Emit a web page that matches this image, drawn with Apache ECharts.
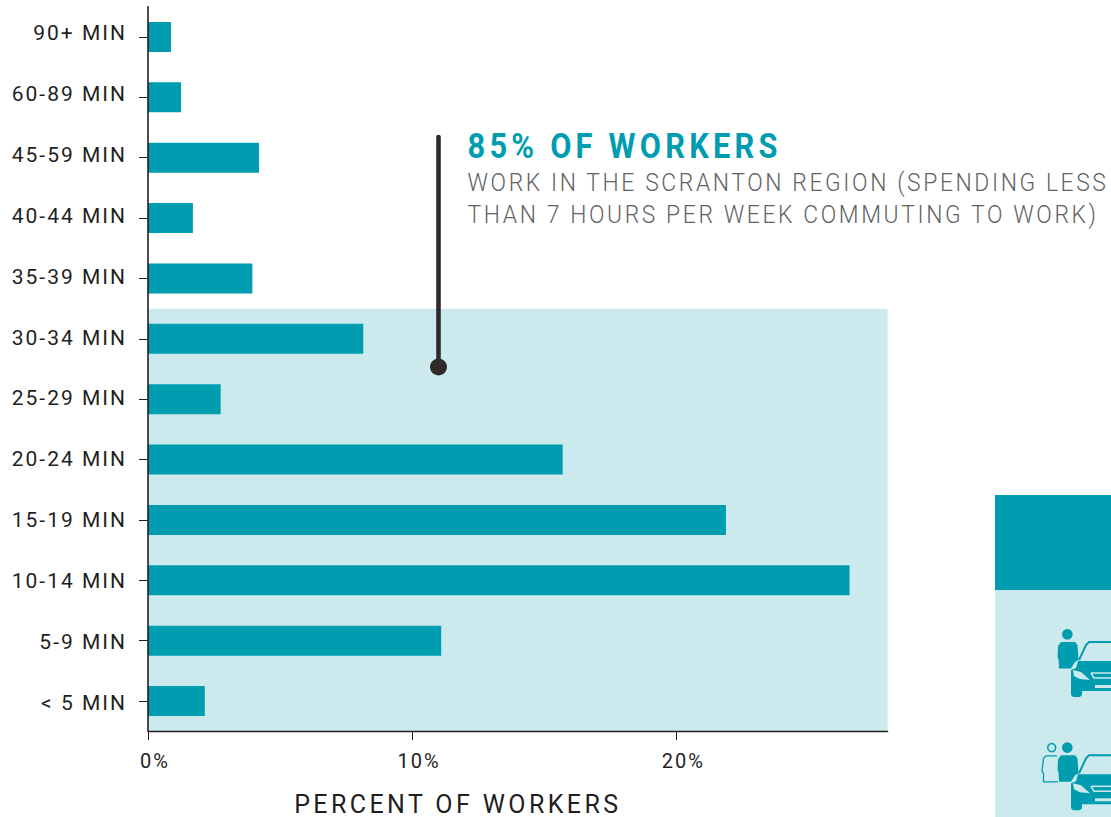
<!DOCTYPE html>
<html><head><meta charset="utf-8">
<script src="https://cdn.jsdelivr.net/npm/echarts@6/dist/echarts.min.js"></script>
<style>
html,body{margin:0;padding:0;background:#fff;overflow:hidden}
#c{width:1111px;height:817px}
#c text{letter-spacing:2px}
#c text[style*="25px"]{letter-spacing:3.4px}
#c text[style*="35px"]{letter-spacing:4.8px}
#c text[style*="25.5px"]{letter-spacing:2.9px}
</style></head><body><div id="c"></div>
<script>
const categories = ['< 5 MIN','5-9 MIN','10-14 MIN','15-19 MIN','20-24 MIN','25-29 MIN','30-34 MIN','35-39 MIN','40-44 MIN','45-59 MIN','60-89 MIN','90+ MIN'];
const workers = [2.15,11.1,26.56,21.88,15.7,2.75,8.15,3.95,1.7,4.2,1.25,0.87];
const regionRows = 7;
const xMax = 28;
const xTicks = [0,10,20];
const TEAL='#009db0', LIGHT='#cceaee', INK='#1f1f1f', DARK='#2f2a28';
const font='Roboto, sans-serif';

function icon(dy, companion){
  const kids=[
    {type:'circle',shape:{cx:1067.3,cy:634.3+dy,r:5.3},style:{fill:TEAL}},
    {type:'polygon',shape:{points:[[1061,642+dy],[1075,642+dy],[1077.5,645+dy],[1078.5,660+dy],[1075,662+dy],[1071,668.5+dy],[1059,668.5+dy],[1058.5,659+dy],[1057.5,657+dy],[1058,646+dy]]},style:{fill:TEAL}},
    {type:'polyline',shape:{points:[[1079,660+dy],[1086,645+dy],[1089,642+dy],[1115,642+dy]]},style:{stroke:TEAL,lineWidth:2,fill:'none'}},
    {type:'polygon',shape:{points:[[1078,661+dy],[1115,661+dy],[1115,691+dy],[1082,691+dy],[1082,695+dy],[1080,697+dy],[1073,697+dy],[1071,695+dy],[1071,670+dy],[1076,668+dy]]},style:{fill:TEAL}},
    {type:'polygon',shape:{points:[[1073,670+dy],[1081,672+dy],[1090,680+dy],[1080,679+dy],[1074,676+dy]]},style:{fill:LIGHT}},
    {type:'polyline',shape:{points:[[1091,673+dy],[1115,673+dy]]},style:{stroke:LIGHT,lineWidth:1.5,fill:'none'}},
    {type:'polyline',shape:{points:[[1091,673+dy],[1094,678+dy],[1115,678+dy]]},style:{stroke:LIGHT,lineWidth:1.5,fill:'none'}},
    {type:'rect',shape:{x:1095,y:685+dy,width:20,height:3},style:{fill:LIGHT}}
  ];
  if(companion){
    kids.unshift(
      {type:'circle',shape:{cx:1051.7,cy:634.3+dy,r:4},style:{fill:'none',stroke:TEAL,lineWidth:1.5}},
      {type:'polyline',shape:{points:[[1057,642.5+dy],[1046,642.5+dy],[1043.5,645+dy],[1042,658+dy],[1043.5,660+dy],[1043.5,668.5+dy],[1058,668.5+dy]]},style:{fill:'none',stroke:TEAL,lineWidth:1.3}}
    );
  }
  return kids;
}
const onTop = el => Object.assign(el,{z:20,silent:true});

const chart=echarts.init(document.getElementById('c'),null,{renderer:'svg'});
chart.setOption({
  animation:false,
  backgroundColor:'#fff',
  grid:[
    {left:148,top:6.8,width:739.6,height:724.4,outerBoundsMode:'none'},
    // label rows in the reference sit on a slightly looser pitch than the bars
    {left:148,top:2.55,width:739.6,height:730.8,outerBoundsMode:'none'}
  ],
  xAxis:[
    {type:'value',min:0,max:xMax,interval:10,z:10,
    splitLine:{show:false},
    axisLine:{show:true,lineStyle:{color:INK,width:1.4}},
    axisTick:{show:true,length:9,customValues:xTicks,lineStyle:{color:INK,width:1}},
    axisLabel:{color:INK,fontFamily:font,fontSize:20,margin:20,padding:[0,0,0,14],
      customValues:xTicks,formatter:v=>v+'%'},
    name:'PERCENT OF WORKERS',nameLocation:'middle',nameGap:61,
    nameTextStyle:{color:INK,fontFamily:font,fontSize:25,lineHeight:24,padding:[0,120,0,0]}
    },
    {type:'value',gridIndex:1,min:0,max:xMax,show:false}
  ],
  yAxis:[
    {type:'category',data:categories,z:10,
     axisLine:{show:true,lineStyle:{color:INK,width:1.6}},
     axisTick:{show:true,alignWithLabel:true,length:9,lineStyle:{color:INK,width:1}},
     axisLabel:{show:false}},
    {type:'value',min:0,max:categories.length,show:false},
    {type:'category',gridIndex:1,data:categories,
     axisLine:{show:false},axisTick:{show:false},
     axisLabel:{color:INK,fontFamily:font,fontSize:21,margin:21}}
  ],
  series:[
    {name:'Scranton region',type:'line',xAxisIndex:0,yAxisIndex:1,data:[],z:1,silent:true,
     markArea:{silent:true,z:1,itemStyle:{color:LIGHT},label:{show:false},
       data:[[{xAxis:0,yAxis:0},{xAxis:xMax,yAxis:regionRows}]]}},
    {name:'Percent of workers',type:'bar',xAxisIndex:0,yAxisIndex:0,data:workers,barWidth:30,z:3,
     itemStyle:{color:TEAL}}
  ],
  graphic:[
    {type:'group',silent:true,children:[
      {type:'rect',shape:{x:995,y:495,width:116,height:95},style:{fill:TEAL}},
      {type:'rect',shape:{x:995,y:590,width:116,height:227},style:{fill:LIGHT}},
      {type:'group',children:icon(0,false)},
      {type:'group',children:icon(113.3,true)}
    ]},
    onTop({type:'line',shape:{x1:438.5,y1:137,x2:438.5,y2:367},style:{stroke:DARK,lineWidth:4.6,lineCap:'round'}}),
    onTop({type:'circle',shape:{cx:438.5,cy:367,r:8.5},style:{fill:DARK}}),
    onTop({type:'text',x:467.5,y:146,scaleX:0.88,style:{text:'85% OF WORKERS',fill:TEAL,font:'700 35px Roboto, sans-serif',textVerticalAlign:'middle'}}),
    onTop({type:'text',x:467.5,y:183,scaleX:0.897,style:{text:'WORK IN THE SCRANTON REGION (SPENDING LESS',fill:'#636363',font:'300 25.5px Roboto, sans-serif',textVerticalAlign:'middle'}}),
    onTop({type:'text',x:467.5,y:215,scaleX:0.897,style:{text:'THAN 7 HOURS PER WEEK COMMUTING TO WORK)',fill:'#636363',font:'300 25.5px Roboto, sans-serif',textVerticalAlign:'middle'}})
  ]
});
</script></body></html>
